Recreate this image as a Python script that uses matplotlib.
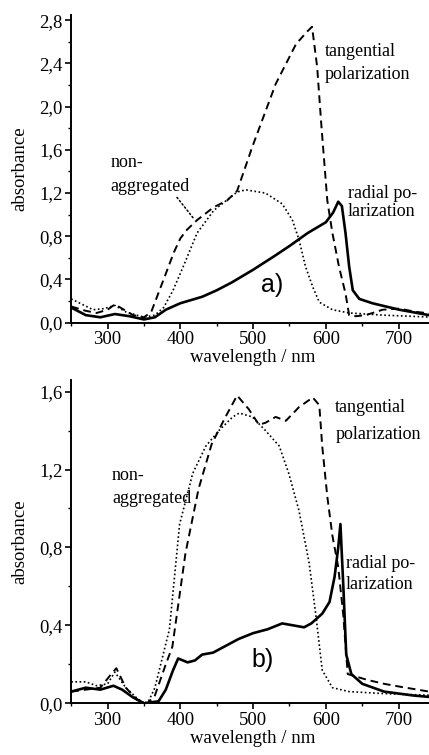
import numpy as np
import matplotlib
matplotlib.use("Agg")
import matplotlib.pyplot as plt
from matplotlib.ticker import MultipleLocator, FuncFormatter

plt.rcParams['font.family'] = ['Liberation Serif', 'DejaVu Serif']

# panel a) spectra
wl_tan_a = [250, 270, 285, 300, 310, 320, 335, 350, 360, 377, 391, 400, 409, 423, 446, 464, 478,
            499, 531, 559, 575, 581, 588, 594, 602, 609, 618, 627, 632, 641, 655, 678, 701, 724, 750]
abs_tan_a = [0.15, 0.11, 0.09, 0.12, 0.17, 0.13, 0.07, 0.05, 0.10, 0.40, 0.65, 0.78, 0.86, 0.95, 1.07, 1.13, 1.22,
             1.63, 2.21, 2.58, 2.70, 2.74, 2.37, 1.81, 1.13, 0.83, 0.52, 0.27, 0.07, 0.06, 0.07, 0.12, 0.13, 0.10, 0.08]

wl_non_a = [250, 265, 280, 295, 310, 325, 340, 350, 365, 377, 390, 404, 423, 446, 478, 490, 517,
            540, 554, 563, 572, 582, 591, 609, 632, 678, 750]
abs_non_a = [0.22, 0.17, 0.12, 0.13, 0.16, 0.10, 0.07, 0.05, 0.07, 0.14, 0.30, 0.52, 0.83, 1.04, 1.21, 1.23, 1.20,
             1.10, 0.95, 0.77, 0.52, 0.33, 0.19, 0.12, 0.09, 0.07, 0.05]

wl_rad_a = [250, 270, 290, 310, 330, 350, 365, 380, 400, 430, 450, 470, 500, 530, 550, 575, 600,
            610, 617, 622, 627, 632, 637, 646, 664, 701, 750]
abs_rad_a = [0.14, 0.07, 0.05, 0.08, 0.06, 0.03, 0.05, 0.12, 0.18, 0.24, 0.30, 0.37, 0.49, 0.62, 0.71, 0.83, 0.93,
             1.02, 1.12, 1.08, 0.83, 0.52, 0.30, 0.22, 0.18, 0.12, 0.06]

# panel b) spectra
wl_tan_b = [250, 270, 290, 305, 312, 325, 340, 355, 365, 380, 389, 407, 425, 443, 462, 478, 494,
            508, 517, 531, 545, 563, 582, 591, 595, 602, 609, 617, 624, 630, 639, 657, 680, 702, 750]
abs_tan_b = [0.06, 0.07, 0.08, 0.15, 0.18, 0.08, 0.02, 0.00, 0.04, 0.20, 0.29, 0.77, 1.10, 1.33, 1.47, 1.58, 1.51,
             1.43, 1.44, 1.47, 1.45, 1.52, 1.57, 1.53, 1.32, 1.06, 0.86, 0.70, 0.45, 0.15, 0.14, 0.12, 0.10, 0.085, 0.055]

wl_non_b = [250, 270, 285, 300, 310, 325, 345, 355, 365, 385, 399, 417, 435, 453, 472, 481, 499,
            517, 536, 549, 563, 577, 586, 595, 609, 632, 678, 750]
abs_non_b = [0.11, 0.11, 0.09, 0.10, 0.16, 0.08, 0.01, 0.00, 0.08, 0.38, 0.92, 1.18, 1.32, 1.40, 1.47, 1.49, 1.47,
             1.40, 1.32, 1.18, 0.99, 0.72, 0.46, 0.17, 0.08, 0.06, 0.05, 0.04]

wl_rad_b = [250, 270, 290, 308, 320, 335, 350, 370, 380, 390, 397, 410, 420, 430, 445, 460, 480,
            500, 520, 540, 555, 570, 580, 595, 605, 612, 617, 620, 624, 628, 635, 650, 680, 720, 750]
abs_rad_b = [0.06, 0.08, 0.07, 0.09, 0.07, 0.03, 0.00, 0.01, 0.07, 0.17, 0.23, 0.21, 0.22, 0.25, 0.26, 0.29, 0.33,
             0.36, 0.38, 0.41, 0.40, 0.39, 0.41, 0.46, 0.52, 0.65, 0.80, 0.92, 0.60, 0.25, 0.15, 0.10, 0.06, 0.04, 0.03]

fig = plt.figure(figsize=(4.29, 7.55), dpi=100)
ax_a = fig.add_axes([0.166, 0.5726, 0.848, 0.4077])
ax_b = fig.add_axes([0.166, 0.0685, 0.848, 0.4283])

comma = FuncFormatter(lambda v, p: f"{v:.1f}".replace('.', ','))


def style(ax, ymax, ystep):
    ax.set_xlim(250, 750)
    ax.set_ylim(0, ymax)
    for s in ['top', 'right']:
        ax.spines[s].set_visible(False)
    for s in ['left', 'bottom']:
        ax.spines[s].set_linewidth(1.4)
    ax.xaxis.set_major_locator(MultipleLocator(100))
    ax.xaxis.set_minor_locator(MultipleLocator(50))
    ax.yaxis.set_major_locator(MultipleLocator(ystep))
    ax.yaxis.set_minor_locator(MultipleLocator(ystep / 2))
    ax.yaxis.set_major_formatter(comma)
    ax.tick_params(which='major', direction='out', length=4, width=1.2, labelsize=13.5, pad=2)
    ax.tick_params(which='minor', direction='out', length=2, width=1.0)
    ax.set_xticks([300, 400, 500, 600, 700])
    ax.set_xlabel("wavelength / nm", fontsize=13.5, labelpad=1)
    ax.set_ylabel("absorbance", fontsize=13.5, labelpad=8)


for ax, tan, non, rad in [(ax_a, (wl_tan_a, abs_tan_a), (wl_non_a, abs_non_a), (wl_rad_a, abs_rad_a)),
                          (ax_b, (wl_tan_b, abs_tan_b), (wl_non_b, abs_non_b), (wl_rad_b, abs_rad_b))]:
    ax.plot(*tan, color='black', linestyle=(0, (4, 2.5)), linewidth=1.4)
    ax.plot(*non, color='black', linestyle=(0, (1, 1.5)), linewidth=1.2)
    ax.plot(*rad, color='black', linestyle='-', linewidth=1.9)

style(ax_a, 2.85, 0.4)
style(ax_b, 1.66, 0.4)

kw = dict(fontsize=13, va='center', ha='left')
ax_a.text(599, 2.51, "tangential", **kw)
ax_a.text(599, 2.30, "polarization", **kw)
ax_a.text(304, 1.48, "non-", **kw)
ax_a.text(304, 1.26, "aggregated", **kw)
ax_a.text(630, 1.20, "radial po-", **kw)
ax_a.text(630, 1.03, "larization", **kw)
ax_a.annotate("", xy=(420, 0.95), xytext=(393, 1.18),
              arrowprops=dict(arrowstyle='-', linestyle=':', color='black', linewidth=1.1))
ax_a.text(526, 0.35, "a)", fontsize=18, family='Liberation Sans', ha='center', va='center')

ax_b.text(613, 1.52, "tangential", **kw)
ax_b.text(613, 1.38, "polarization", **kw)
ax_b.text(306, 1.17, "non-", **kw)
ax_b.text(306, 1.05, "aggregated", **kw)
ax_b.text(627, 0.72, "radial po-", **kw)
ax_b.text(627, 0.61, "larization", **kw)
ax_b.text(513, 0.22, "b)", fontsize=18, family='Liberation Sans', ha='center', va='center')

fig.savefig("out.png", dpi=100)
